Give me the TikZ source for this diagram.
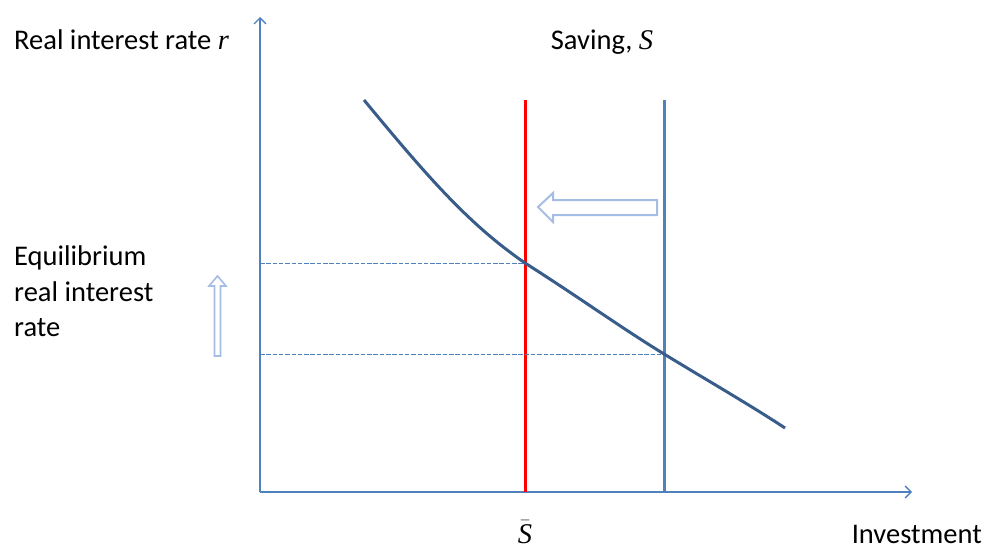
\documentclass[tikz,border=0pt]{standalone}
\usepackage{fontspec}
\setmainfont{Carlito}
\newfontfamily\mathserif{Liberation Serif}
\usetikzlibrary{arrows.meta}
\definecolor{axisblue}{RGB}{79,129,189}
\definecolor{curveblue}{RGB}{56,93,138}
\definecolor{shiftblue}{RGB}{165,188,228}
\newcommand\mv[1]{{\mathserif\itshape #1}}
\begin{document}
\begin{tikzpicture}[x=1pt, y=-1pt, font=\fontsize{28.5}{34}\selectfont,
    axis/.style={draw=axisblue, line width=1.3pt, -{Straight Barb[length=6pt, width=12pt]}},
    guide/.style={draw=axisblue, line width=1pt, dash pattern=on 4.5pt off 1.8pt},
    shiftarrow/.style={draw=shiftblue, line width=2pt, fill=white, line join=miter},
    every node/.style={inner sep=0pt}]
        \useasboundingbox (0,0) rectangle (984,548);
        \coordinate (o) at (260,492);
        \coordinate (ytop) at (260,17);
        \coordinate (xend) at (912,492);
        \draw[axis] (o) -- (ytop);
        \draw[axis] (o) -- (xend);
        % saving lines
        \coordinate (sbar) at (525,492);
        \coordinate (sbartop) at (525,100);
        \coordinate (s) at (664,492);
        \coordinate (stop) at (664,100);
        \draw[red, line width=3pt] (sbar) -- (sbartop);
        \draw[axisblue, line width=3pt] (s) -- (stop);
        % equilibria
        \coordinate (e1) at (525,263);
        \coordinate (e2) at (664,354);
        \coordinate (r1) at (260,263);
        \coordinate (r2) at (260,354);
        \draw[guide] (r1) -- (e1);
        \draw[guide] (r2) -- (e2);
        % investment curve
        \coordinate (i0) at (364,100);
        \coordinate (i3) at (785,428);
        \draw[curveblue, line width=3pt] (i0) .. controls (430,180) and (470,225) .. (e1)
            .. controls (580,298) and (620,327) .. (e2) .. controls (710,382) and (750,405) .. (i3);
        % shift arrows
        \draw[shiftarrow] (657,200) -- (553,200) -- (553,193) -- (538,207) -- (553,222) -- (553,215) -- (657,215) -- cycle;
        \draw[shiftarrow, line width=1.6pt] (214.5,356) -- (214.5,286) -- (209,286) -- (217.5,276) -- (226,286) -- (220.5,286) -- (220.5,356) -- cycle;
        % labels
        \node[anchor=base west] (ylab) at (14,50) {Real interest rate \mv{r}};
        \node[anchor=base] (slab) at (602,50) {Saving, \mv{S}};
        \foreach \i/\txt/\yy in {1/Equilibrium/265,2/real interest/301,3/rate/336} {
            \node[anchor=base west] (eq\i) at (14,\yy) {\txt};
        }
        \node[anchor=base] (sbarlab) at (525,543) {$\bar{\hbox{\mv{S}}}$};
        \node[anchor=base east] (xlab) at (982,543) {Investment};
    \end{tikzpicture}
\end{document}
